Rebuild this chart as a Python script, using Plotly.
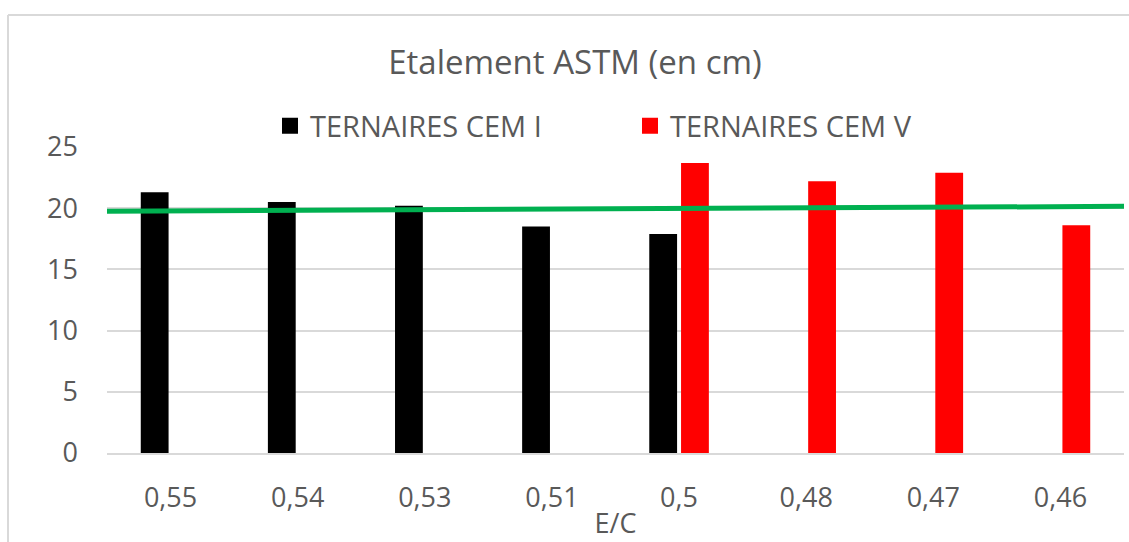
import plotly.graph_objects as go

# E/C ratios (category labels, French decimal comma)
categories = ["0,55", "0,54", "0,53", "0,51", "0,5", "0,48", "0,47", "0,46"]

# ASTM spread (cm) per series; None where the series has no value
cem_i = [21.3, 20.5, 20.2, 18.5, 17.9, None, None, None]
cem_v = [None, None, None, None, 23.7, 22.2, 22.9, 18.6]

# Linear trend across the full width (start, end)
trend_x = [0, 1]
trend_y = [19.75, 20.15]

W, H = 1129, 542
L, R, T, B = 107, 5, 147, 89
plot_w = W - L - R
plot_h = H - T - B

FONT = "Open Sans"
GREY = "#595959"
LINE = "#D9D9D9"

fig = go.Figure()

fig.add_trace(go.Bar(x=categories, y=cem_i, name="TERNAIRES CEM I",
                     marker=dict(color="#000000", line=dict(width=0)),
                     showlegend=False))
fig.add_trace(go.Bar(x=categories, y=cem_v, name="TERNAIRES CEM V",
                     marker=dict(color="#FF0000", line=dict(width=0)),
                     showlegend=False))

# legend swatches
fig.add_trace(go.Scatter(x=[None], y=[None], mode="markers", name="TERNAIRES CEM I",
                         marker=dict(symbol="square", size=18, color="#000000")))
fig.add_trace(go.Scatter(x=[None], y=[None], mode="markers", name="TERNAIRES CEM V",
                         marker=dict(symbol="square", size=18, color="#FF0000")))

fig.add_trace(go.Scatter(x=trend_x, y=trend_y, mode="lines", xaxis="x2",
                         line=dict(color="#00B050", width=5), showlegend=False,
                         hoverinfo="skip"))

def px_x(p):
    return (p - L) / plot_w

def px_y(p):
    return (H - B - p) / plot_h

# chart frame (left and top edges visible)
fig.add_shape(type="line", xref="paper", yref="paper",
              x0=px_x(8), x1=px_x(8), y0=px_y(H + 5), y1=px_y(15),
              line=dict(color=LINE, width=2))
fig.add_shape(type="line", xref="paper", yref="paper",
              x0=px_x(8), x1=px_x(W + 5), y0=px_y(15), y1=px_y(15),
              line=dict(color=LINE, width=2))

fig.update_layout(
    width=W, height=H,
    margin=dict(l=L, r=R, t=T, b=B, autoexpand=False),
    paper_bgcolor="white", plot_bgcolor="white",
    barmode="group", bargap=0.5, bargroupgap=0.125,
    font=dict(family=FONT, color=GREY, size=27),
    title=dict(text="Etalement ASTM (en cm)", xref="container", yref="container",
               x=575 / W, xanchor="center", y=1 - 62 / H, yanchor="middle",
               font=dict(family=FONT, size=33, color=GREY)),
    legend=dict(orientation="h", xref="container", yref="container",
                x=270 / W, xanchor="left", y=1 - 126 / H, yanchor="middle",
                font=dict(family=FONT, size=29, color=GREY),
                entrywidth=315, entrywidthmode="pixels",
                bgcolor="rgba(0,0,0,0)"),
    xaxis=dict(type="category", showgrid=False, showline=True, linecolor=LINE,
               linewidth=2, ticks="", ticklabelstandoff=20,
               tickfont=dict(family=FONT, size=27, color=GREY),
               title=dict(text="E/C", standoff=0,
                          font=dict(family=FONT, size=27, color=GREY)),
               fixedrange=True),
    xaxis2=dict(overlaying="x", range=[0, 1], visible=False, fixedrange=True),
    yaxis=dict(range=[0, 25], dtick=5, showgrid=True, gridcolor=LINE, gridwidth=2,
               zeroline=False, showline=False, ticks="", ticklabelstandoff=28,
               tickfont=dict(family=FONT, size=27, color=GREY), fixedrange=True),
    showlegend=True,
)

fig.write_html("out.html")
